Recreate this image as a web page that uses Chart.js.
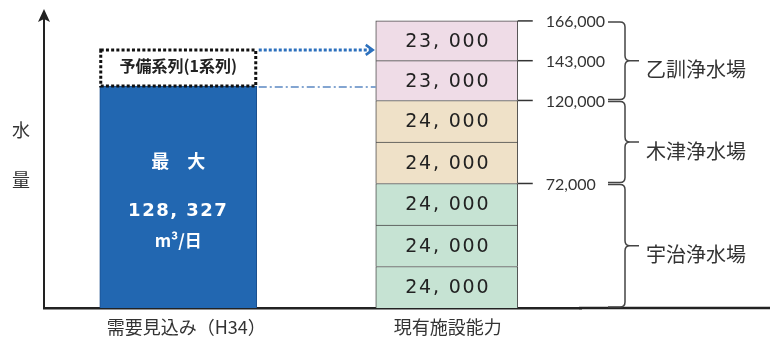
<!DOCTYPE html>
<html><head><meta charset="utf-8">
<script src="https://cdn.jsdelivr.net/npm/chart.js@4/dist/chart.umd.min.js"></script>
<style>html,body{margin:0;padding:0;background:#fff}#wrap{width:770px;height:338px;position:relative}</style>
</head><body><div id="wrap"><canvas id="c" width="770" height="338"></canvas></div>
<script>
// ---- data ----
const categories = ['需要見込み（H34）', '現有施設能力'];
const demandMax = [128327, null];
const reserveUnit = [21500, null];
const ujiUnits = [24000, 24000, 24000];
const kizuUnits = [24000, 24000];
const otokuniUnits = [23000, 23000];
const capacityTicks = [72000, 120000, 143000, 166000];
const plantNames = ['宇治浄水場', '木津浄水場', '乙訓浄水場'];
const yAxisTitle = ['水', '量'];
const demandLabel = ['最　大', '128, 327', 'm³/日'];
const reserveLabel = '予備系列(1系列)';

// ---- styles ----
const plantColors = ['#c6e3d3', '#efe1c8', '#efdce7'];
const CJK = '"Noto Sans CJK JP", "Noto Sans CJK SC", sans-serif';
const labelShift = [8, 1];

const datasets = [
  { label: 'demand', data: demandMax, backgroundColor: '#2267b1', borderColor: '#1b4f8c', borderWidth: 1, barThickness: 157, stack: 's' },
  { label: 'reserve', data: reserveUnit, backgroundColor: 'rgba(255,255,255,0)', borderWidth: 0, barThickness: 157, stack: 's' }
];
const plantGroups = [ujiUnits, kizuUnits, otokuniUnits];
plantGroups.forEach((grp, gi) => {
  grp.forEach((v, i) => {
    datasets.push({ label: plantNames[gi] + (i + 1), data: [null, v], plant: gi,
      backgroundColor: plantColors[gi], borderColor: '#4a4a4a',
      borderWidth: { top: 1, left: 1, right: 1, bottom: 0 }, borderSkipped: false,
      barThickness: 142, stack: 's' });
  });
});

function fmt(v) { return String(v).replace(/\B(?=(\d{3})+(?!\d))/g, ', '); }
function fmtTick(v) { return String(v).replace(/\B(?=(\d{3})+(?!\d))/g, ','); }

const overlay = {
  id: 'overlay',
  afterDatasetsDraw(chart) {
    const ctx = chart.ctx, ca = chart.chartArea, y = chart.scales.y, x = chart.scales.x;
    ctx.save();
    // baseline extension
    ctx.strokeStyle = '#222'; ctx.lineWidth = 2.5;
    ctx.beginPath(); ctx.moveTo(ca.right - 2, ca.bottom); ctx.lineTo(chart.width, ca.bottom); ctx.stroke();
    // y axis arrow
    ctx.fillStyle = '#222';
    ctx.beginPath(); ctx.moveTo(ca.left, ca.top - 5); ctx.lineTo(ca.left - 6, ca.top + 8); ctx.lineTo(ca.left, ca.top + 5); ctx.lineTo(ca.left + 6, ca.top + 8); ctx.closePath(); ctx.fill();
    // y axis title
    ctx.fillStyle = '#333'; ctx.font = '18px ' + CJK; ctx.textAlign = 'center'; ctx.textBaseline = 'middle';
    ctx.fillText(yAxisTitle[0], 21, 130);
    ctx.fillText(yAxisTitle[1], 21, 180);
    // category labels
    ctx.font = '18px ' + CJK; ctx.fillStyle = '#333';
    categories.forEach((c, i) => {
      ctx.fillText(c, x.getPixelForValue(i) + labelShift[i], ca.bottom + 19);
    });

    // demand bar text
    const dEl = chart.getDatasetMeta(0).data[0];
    ctx.fillStyle = '#fff';
    ctx.font = 'bold 18px ' + CJK;
    ctx.fillText(demandLabel[0], dEl.x, dEl.y + 75);
    ctx.font = 'bold 18px "DejaVu Sans"';
    ctx.letterSpacing = '1.5px';
    ctx.fillText(demandLabel[1], dEl.x, dEl.y + 125);
    ctx.letterSpacing = '0px';
    ctx.font = 'bold 17px ' + CJK;
    ctx.fillText(demandLabel[2], dEl.x, dEl.y + 154);

    // reserve dotted box
    const rEl = chart.getDatasetMeta(1).data[0];
    const rl = rEl.x - rEl.width / 2, rr = rEl.x + rEl.width / 2, rt = rEl.y, rb = rEl.base;
    ctx.strokeStyle = '#111'; ctx.lineWidth = 3; ctx.setLineDash([3, 2.2]);
    ctx.strokeRect(rl + 1, rt + 1, rr - rl - 2, rb - rt - 1);
    ctx.setLineDash([]);
    ctx.fillStyle = '#222'; ctx.font = 'bold 16px ' + CJK;
    ctx.fillText(reserveLabel, rEl.x, (rt + rb) / 2 - 2);

    // segments labels
    let b2left = null, b2right = null;
    ctx.font = '19px "DejaVu Sans"'; ctx.fillStyle = '#222'; ctx.letterSpacing = '1.8px';
    for (let d = 2; d < chart.data.datasets.length; d++) {
      const el = chart.getDatasetMeta(d).data[1];
      const v = chart.data.datasets[d].data[1];
      b2left = el.x - el.width / 2; b2right = el.x + el.width / 2;
      ctx.fillText(fmt(v), el.x + 1, (el.y + el.base) / 2 + 1);
    }
    ctx.letterSpacing = '0px';

    // dotted arrow
    ctx.strokeStyle = '#2c70bd'; ctx.lineWidth = 3; ctx.setLineDash([3, 2]);
    ctx.beginPath(); ctx.moveTo(rr + 2, rt + 1); ctx.lineTo(b2left - 5, rt + 1); ctx.stroke();
    ctx.setLineDash([]); ctx.lineWidth = 2.5;
    ctx.beginPath(); ctx.moveTo(b2left - 10, rt - 4); ctx.lineTo(b2left - 3, rt + 1); ctx.lineTo(b2left - 10, rt + 6); ctx.stroke();
    // dash-dot line
    ctx.strokeStyle = '#5b88c2'; ctx.lineWidth = 1.5; ctx.setLineDash([8, 3, 2, 3]);
    ctx.beginPath(); ctx.moveTo(rr + 2, dEl.y + 1); ctx.lineTo(b2left, dEl.y + 1); ctx.stroke();
    ctx.setLineDash([]);

    // right ticks & labels
    ctx.strokeStyle = '#333'; ctx.lineWidth = 1.5;
    ctx.font = '16px Lato'; ctx.fillStyle = '#333'; ctx.textAlign = 'left';
    capacityTicks.forEach(t => {
      const py = y.getPixelForValue(t);
      ctx.beginPath(); ctx.moveTo(b2right, py); ctx.lineTo(b2right + 15, py); ctx.stroke();
      ctx.fillText(fmtTick(t), b2right + 28, py + 1);
    });

    // braces
    const xe = 608, xv = 625, xt = 639, r = 5;
    let cum = 0;
    ctx.strokeStyle = '#444'; ctx.lineWidth = 1.5;
    ctx.font = '20px ' + CJK; ctx.fillStyle = '#333';
    plantGroups.forEach((grp, gi) => {
      const lo = cum; cum += grp.reduce((a, b) => a + b, 0);
      const yB = y.getPixelForValue(lo), yT = y.getPixelForValue(cum), yM = (yB + yT) / 2;
      ctx.beginPath();
      ctx.moveTo(xe, yT + 1); ctx.lineTo(xv - r, yT + 1);
      ctx.quadraticCurveTo(xv, yT + 1, xv, yT + 1 + r);
      ctx.lineTo(xv, yM - r);
      ctx.quadraticCurveTo(xv, yM, xv + r, yM);
      ctx.lineTo(xt, yM);
      ctx.moveTo(xv + r, yM);
      ctx.quadraticCurveTo(xv, yM, xv, yM + r);
      ctx.lineTo(xv, yB - 1 - r);
      ctx.quadraticCurveTo(xv, yB - 1, xv - r, yB - 1);
      ctx.lineTo(xe, yB - 1);
      ctx.stroke();
      ctx.fillText(plantNames[gi], 646, yM + 9);
    });
    ctx.restore();
  }
};

new Chart(document.getElementById('c'), {
  type: 'bar',
  data: { labels: categories, datasets },
  options: {
    responsive: false, animation: false, devicePixelRatio: 1,
    layout: { padding: { left: 0, top: 14, right: 189, bottom: 0 } },
    plugins: { legend: { display: false }, tooltip: { enabled: false } },
    scales: {
      x: {
        stacked: true, offset: true,
        grid: { display: false, drawTicks: false },
        border: { display: true, color: '#222', width: 2.5 },
        ticks: { display: false },
        afterFit: s => { s.height = 30; }
      },
      y: {
        stacked: true, min: 0, max: 170000,
        grid: { display: false, drawTicks: false },
        border: { display: true, color: '#222', width: 2 },
        ticks: { display: false },
        afterFit: s => { s.width = 44; }
      }
    }
  },
  plugins: [overlay]
});
</script>
</body></html>
